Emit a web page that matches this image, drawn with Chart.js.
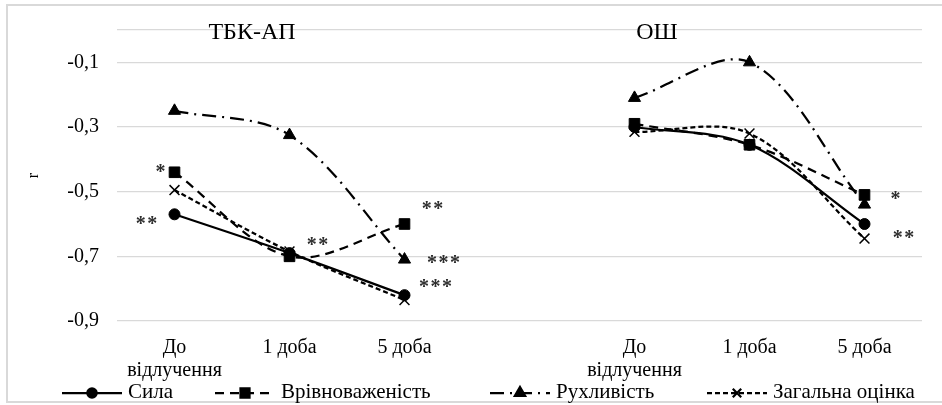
<!DOCTYPE html>
<html><head><meta charset="utf-8">
<script src="https://cdn.jsdelivr.net/npm/chart.js@4/dist/chart.umd.min.js"></script>
<style>html,body{margin:0;padding:0;background:#fff}#wrap{width:942px;height:405px;position:relative}</style>
</head><body><div id="wrap"><canvas id="c" width="942" height="405"></canvas></div>
<script>
// ---- data ----
const categories = [['До','відлучення'],'1 доба','5 доба','',['До','відлучення'],'1 доба','5 доба'];
const groupTitles = ['ТБК-АП','ОШ'];
const yTicks = [-0.9,-0.7,-0.5,-0.3,-0.1];
const yAxisTitle = 'r';
const seriesNames = ['Сила','Врівноваженість','Рухливість','Загальна оцінка'];
const sila  = [-0.57,-0.69,-0.82,null,-0.30,-0.355,-0.60];
const vrivn = [-0.44,-0.70,-0.60,null,-0.29,-0.355,-0.51];
const rukhl = [-0.25,-0.325,-0.71,null,-0.21,-0.10,-0.54];
const zahal = [-0.495,-0.685,-0.835,null,-0.315,-0.32,-0.645];
const silaStars  = ['**','**','***','','','',''];
const vrivnStars = ['*','','**','','','','*'];
const rukhlStars = ['','','***','','','',''];
const zahalStars = ['','','','','','','**'];

// ---- style ----
const FONT = '"Liberation Serif", "Times New Roman", Tinos, serif';
const starOffsets = {
  '0-0':[-28,6], '0-1':[28,-12], '0-2':[31,-12],
  '1-0':[-14,-4], '1-2':[28,-19], '1-6':[31,0],
  '2-2':[39,-1],
  '3-6':[39,-5]
};
const legendX = [62,215,490,707];
const groupTitlePos = [[252,33],[657,33]];

const allStars = [silaStars,vrivnStars,rukhlStars,zahalStars];

function mkDs(label, data, extra){
  return Object.assign({
    label, data, borderColor:'#000', backgroundColor:'#000',
    borderWidth:2.25, pointBackgroundColor:'#000', pointBorderColor:'#000',
    pointBorderWidth:1, tension:0.33, spanGaps:false, fill:false
  }, extra);
}

const datasets = [
  mkDs(seriesNames[0], sila,  {pointStyle:'circle', pointRadius:5.5, order:4}),
  mkDs(seriesNames[1], vrivn, {pointStyle:'rect', pointRadius:7.5, borderDash:[9,6], order:3}),
  mkDs(seriesNames[2], rukhl, {pointStyle:'triangle', pointRadius:7, borderDash:[14,6,2,6], order:2}),
  mkDs(seriesNames[3], zahal, {pointStyle:'crossRot', pointRadius:7, pointBorderWidth:1.5, borderDash:[5,3], order:1})
];

const decor = {
  id:'decor',
  beforeDraw(chart){
    const ctx = chart.ctx;
    ctx.save();
    ctx.fillStyle='#fff'; ctx.fillRect(0,0,chart.width,chart.height);
    ctx.strokeStyle='#d9d9d9'; ctx.lineWidth=2;
    ctx.strokeRect(7,5,chart.width+10,397);
    ctx.restore();
  },
  afterDatasetsDraw(chart){
    const ctx = chart.ctx;
    ctx.save();
    // stars
    ctx.fillStyle='#2e2e2e';
    ctx.font = 'bold 20px '+FONT;
    ctx.textAlign='center'; ctx.textBaseline='alphabetic';
    allStars.forEach((arr,i)=>{
      const meta = chart.getDatasetMeta(i);
      arr.forEach((s,j)=>{
        if(!s) return;
        const pt = meta.data[j];
        const off = starOffsets[i+'-'+j] || [30,0];
        const cx = pt.x+off[0], cy = pt.y+off[1];
        const n = s.length, step = 11.5;
        for(let k=0;k<n;k++){
          ctx.fillText('*', cx + (k-(n-1)/2)*step, cy+10);
        }
      });
    });
    // group titles
    ctx.fillStyle='#000';
    ctx.font='24px '+FONT;
    ctx.textBaseline='middle';
    groupTitles.forEach((t,i)=>ctx.fillText(t, groupTitlePos[i][0], groupTitlePos[i][1]));
    // legend
    ctx.font='21px '+FONT;
    ctx.textAlign='left';
    ctx.textBaseline='alphabetic';
    const ly = 393;
    chart.data.datasets.forEach((ds,i)=>{
      const x0 = legendX[i], x1 = x0+60;
      ctx.save();
      ctx.strokeStyle='#000'; ctx.lineWidth=2.25;
      ctx.setLineDash(ds.borderDash||[]);
      ctx.beginPath(); ctx.moveTo(x0,ly); ctx.lineTo(x1,ly); ctx.stroke();
      ctx.setLineDash([]);
      Chart.helpers.drawPoint(ctx,{pointStyle:ds.pointStyle, radius:ds.pointRadius*0.85, borderWidth:ds.pointBorderWidth},(x0+x1)/2,ly);
      ctx.fillStyle='#000';
      if(ds.pointStyle!=='crossRot') ctx.fill();
      ctx.restore();
      ctx.fillStyle='#000';
      ctx.fillText(ds.label, x1+6, 398);
    });
    ctx.restore();
  }
};

function build(){
  new Chart(document.getElementById('c'),{
    type:'line',
    data:{labels:categories, datasets},
    plugins:[decor],
    options:{
      responsive:false, animation:false, devicePixelRatio:1,
      layout:{padding:{left:8,right:20,top:25,bottom:0}},
      plugins:{legend:{display:false}, tooltip:{enabled:false}},
      scales:{
        x:{
          type:'category', offset:true,
          grid:{display:false, drawTicks:false},
          border:{display:false},
          ticks:{color:'#000', font:{family:FONT,size:20,lineHeight:1.15}, padding:15, maxRotation:0, autoSkip:false},
          afterFit(s){ s.height = 84; }
        },
        y:{
          type:'linear', min:-0.9, max:0,
          afterBuildTicks(s){ s.ticks = yTicks.concat([0]).map(v=>({value:v})); },
          grid:{color:'#d9d9d9', lineWidth:1.25, drawTicks:false},
          border:{display:false},
          ticks:{color:'#000', font:{family:FONT,size:20}, padding:18,
            callback:(v)=> v===0 ? '' : v.toFixed(1).replace('.',',')},
          title:{display:true, text:yAxisTitle, color:'#000', font:{family:FONT,size:16}, padding:{top:16,bottom:0}},
          afterFit(s){ s.width = 109; }
        }
      }
    }
  });
}
Promise.all([
  document.fonts.load('20px "Liberation Serif"', 'ТБКАПабв01'),
  document.fonts.load('20px "Times New Roman"', 'ТБКАПабв01')
]).then(build, build);
</script></body></html>
